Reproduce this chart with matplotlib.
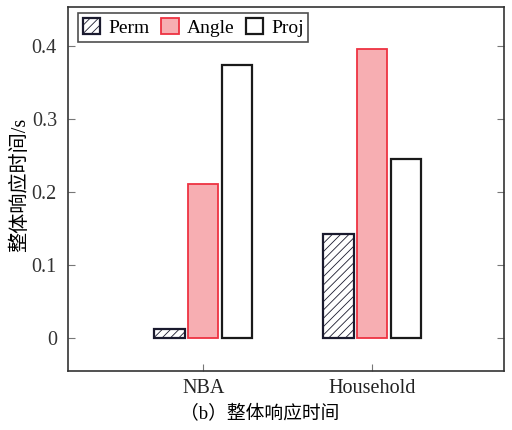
import numpy as np
import matplotlib.pyplot as plt

plt.rcParams['font.family'] = ['Liberation Serif', 'Noto Sans CJK SC']
plt.rcParams['hatch.linewidth'] = 0.6

# data
datasets = ['NBA', 'Household']
methods = ['Perm', 'Angle', 'Proj']
perm = [0.012, 0.142]
angle = [0.211, 0.395]
proj = [0.374, 0.245]

fig = plt.figure(figsize=(5.12, 4.3), dpi=100)
ax = fig.add_axes([68 / 512, 1 - 371 / 430, (504 - 68) / 512, (371 - 7) / 430])

x = np.arange(len(datasets))
w = 0.18
ax.bar(x - 0.2, perm, w, facecolor='white', edgecolor='#1a1a2e', hatch='////',
       linewidth=1.6, label=methods[0])
ax.bar(x, angle, w, facecolor='#f7aeb2', edgecolor='#ee3342',
       linewidth=1.3, label=methods[1])
ax.bar(x + 0.2, proj, w, facecolor='white', edgecolor='#1a1a1a',
       linewidth=1.6, label=methods[2])

ax.set_xlim(-0.8, 1.78)
ax.set_ylim(-0.045, 0.453)
ax.set_xticks(x)
ax.set_xticklabels(datasets, fontsize=14.5, color='#222222')
ax.set_yticks([0, 0.1, 0.2, 0.3, 0.4])
ax.set_yticklabels(['0', '0.1', '0.2', '0.3', '0.4'], fontsize=14.5, color='#333333')
ax.tick_params(direction='in', length=5, width=0.8, color='#777777', right=True)
ax.tick_params(axis='y', pad=8)
ax.tick_params(axis='x', pad=6)
for s in ax.spines.values():
    s.set_linewidth(1.2)
    s.set_color('#333333')

ax.set_ylabel('整体响应时间/s', fontsize=14.5)
ax.yaxis.set_label_coords(-(68 - 30) / 436, (371 - 185) / 364)

leg = ax.legend(loc='upper left', ncol=3, fontsize=14, frameon=True, fancybox=False,
                edgecolor='#222222', handlelength=0.9, handleheight=0.9,
                handletextpad=0.4, columnspacing=0.6, borderpad=0.25,
                borderaxespad=0, bbox_to_anchor=(10 / 436, 1 - 6 / 364))
leg.get_frame().set_linewidth(1.2)

fig.text(260 / 512, 1 - 413 / 430, '（b）整体响应时间', ha='center', va='center',
         fontsize=13.5)

fig.savefig('out.png', dpi=100)
